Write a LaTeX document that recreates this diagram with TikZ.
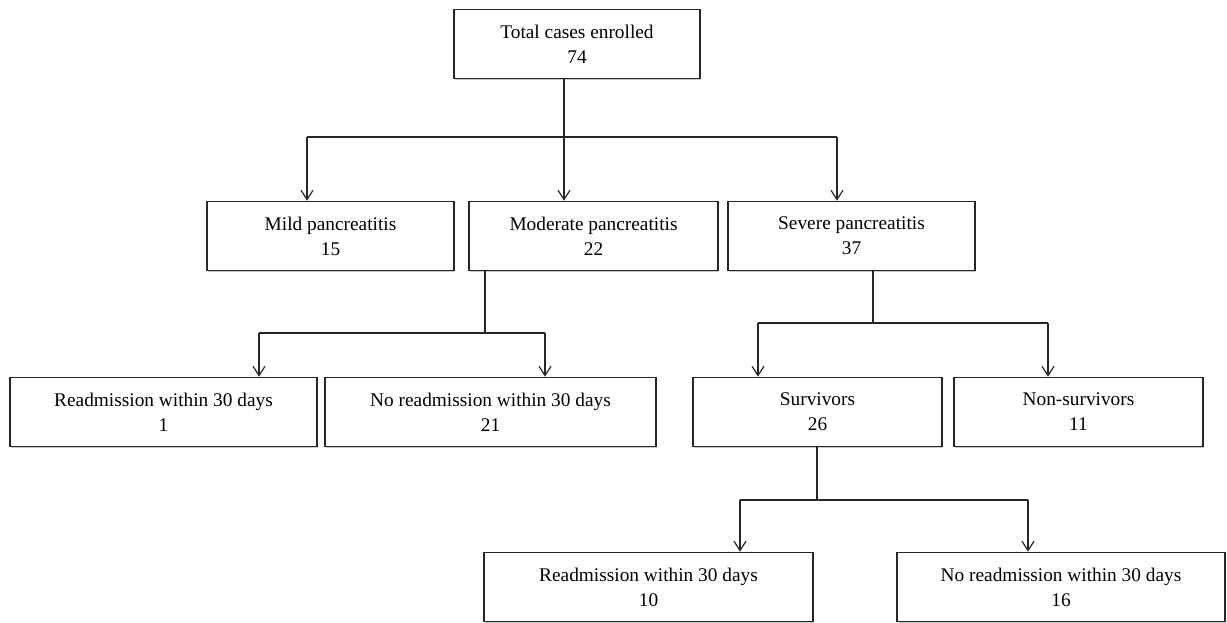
\documentclass[tikz,border=0pt]{standalone}
\usepackage{fontspec}
\setmainfont{Liberation Serif}
\usetikzlibrary{arrows.meta,shadows}
\tikzset{casebox/.style={draw=black!85,line width=1pt,fill=white,align=center,
		minimum height=52pt,inner sep=0pt,font=\fontsize{14.5}{18.75}\selectfont,
		drop shadow={shadow xshift=1pt,shadow yshift=-1pt,opacity=0.35,fill=black!60}},
	link/.style={line width=0.9pt,draw=black!85},
	>={Straight Barb[length=7pt,width=9pt]}}

\begin{document}
\begin{tikzpicture}[x=0.75pt,y=-0.75pt]
		\useasboundingbox (0,0) rectangle (1227,623);
		\node[casebox,minimum width=184.5pt] (total) at (577,44) {Total cases enrolled\\74};
		\node[casebox,minimum width=185.25pt] (mild) at (330.5,236) {Mild pancreatitis\\15};
		\node[casebox,minimum width=186.75pt] (moderate) at (593.5,236) {Moderate pancreatitis\\22};
		\node[casebox,minimum width=185.25pt] (severe) at (851.5,236) {Severe pancreatitis\\37};
		\node[casebox,minimum width=230.25pt] (readmA) at (163.5,412) {Readmission within 30 days\\1};
		\node[casebox,minimum width=248.25pt] (noreadmA) at (490.5,412) {No readmission within 30 days\\21};
		\node[casebox,minimum width=186.75pt] (surv) at (817.5,412) {Survivors\\26};
		\node[casebox,minimum width=186.75pt] (nonsurv) at (1078.5,412) {Non-survivors\\11};
		\node[casebox,minimum width=246.75pt] (readmB) at (648.5,587) {Readmission within 30 days\\10};
		\node[casebox,minimum width=246pt] (noreadmB) at (1061,587) {No readmission within 30 days\\16};
		
		% total -> grades
		\coordinate (t) at (564,137);
		\coordinate (tl) at (307,137);
		\coordinate (tr) at (837,137);
		\draw[link] (total.south -| t) -- (t);
		\draw[link] (tl) -- (tr);
		\draw[link,->] (tl) -- (tl |- mild.north);
		\draw[link,->] (t) -- (t |- moderate.north);
		\draw[link,->] (tr) -- (tr |- severe.north);
		
		% moderate -> readmission
		\coordinate (m) at (485,333);
		\coordinate (ml) at (259,333);
		\coordinate (mr) at (545,333);
		\draw[link] (moderate.south -| m) -- (m);
		\draw[link] (ml) -- (mr);
		\draw[link,->] (ml) -- (ml |- readmA.north);
		\draw[link,->] (mr) -- (mr |- noreadmA.north);
		
		% severe -> outcome
		\coordinate (s) at (873,323);
		\coordinate (sl) at (758,323);
		\coordinate (sr) at (1048,323);
		\draw[link] (severe.south -| s) -- (s);
		\draw[link] (sl) -- (sr);
		\draw[link,->] (sl) -- (sl |- surv.north);
		\draw[link,->] (sr) -- (sr |- nonsurv.north);
		
		% survivors -> readmission
		\coordinate (v) at (817,500);
		\coordinate (vl) at (740,500);
		\coordinate (vr) at (1028,500);
		\draw[link] (surv.south -| v) -- (v);
		\draw[link] (vl) -- (vr);
		\draw[link,->] (vl) -- (vl |- readmB.north);
		\draw[link,->] (vr) -- (vr |- noreadmB.north);
\end{tikzpicture}
\end{document}
